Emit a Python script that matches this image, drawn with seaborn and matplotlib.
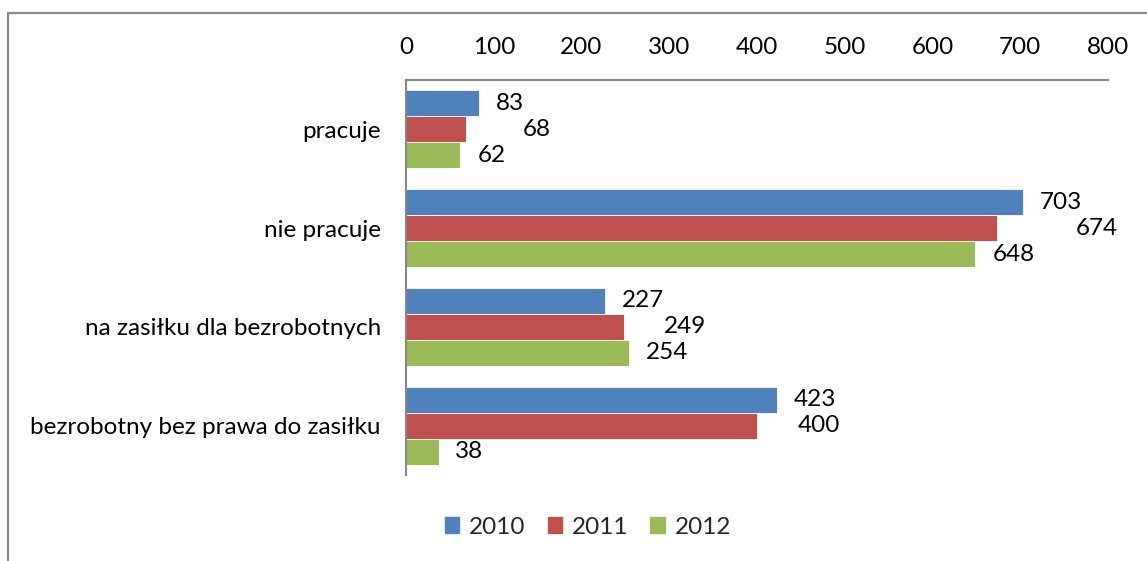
import matplotlib
matplotlib.use("Agg")
import matplotlib.pyplot as plt
import seaborn as sns
import pandas as pd
from matplotlib.lines import Line2D

categories = ["pracuje", "nie pracuje", "na zasiłku dla bezrobotnych", "bezrobotny bez prawa do zasiłku"]
years = ["2010", "2011", "2012"]
values_2010 = [83, 703, 227, 423]
values_2011 = [68, 674, 249, 400]
values_2012 = [62, 648, 254, 38]
x_ticks = [0, 100, 200, 300, 400, 500, 600, 700, 800]

colors = ["#4F81BD", "#C0504D", "#9BBB59"]
# label offsets in pixels (style: how the original chart staggers its data labels)
label_offsets = {
    "2010": [17, 17, 17, 17],
    "2011": [57, 78, 39, 41],
    "2012": [17, 18, 17, 16],
}

rows = []
for yr, vals in zip(years, [values_2010, values_2011, values_2012]):
    for c, v in zip(categories, vals):
        rows.append({"kategoria": c, "rok": yr, "wartosc": v})
df = pd.DataFrame(rows)

sns.set_theme(style="white")
plt.rcParams["font.family"] = ["Lato", "DejaVu Sans"]
FS = 17.5

fig = plt.figure(figsize=(11.47, 5.61), dpi=100)
ax = fig.add_axes([406/1147, 1 - 475/561, (1108-406)/1147, (475-80)/561])

sns.barplot(data=df, y="kategoria", x="wartosc", hue="rok", order=categories,
            hue_order=years, palette=colors, orient="h", width=0.79,
            saturation=1, ax=ax, edgecolor="white", linewidth=0.6)

ax.set_xlim(0, 800)
ax.set_xticks(x_ticks)
ax.xaxis.tick_top()
ax.tick_params(axis="x", length=0, pad=16, labelsize=FS, colors="black")
ax.tick_params(axis="y", length=0, pad=18, labelsize=FS, colors="black")
ax.set_xlabel("")
ax.set_ylabel("")
for side in ["right", "bottom"]:
    ax.spines[side].set_visible(False)
for side in ["left", "top"]:
    ax.spines[side].set_color("#868686")
    ax.spines[side].set_linewidth(1.5)

px2pt = 72 / 100
for cont, yr in zip(ax.containers, years):
    for bar, off in zip(cont, label_offsets[yr]):
        w = bar.get_width()
        yc = bar.get_y() + bar.get_height() / 2
        ax.annotate(f"{int(round(w))}", xy=(w, yc), xytext=(off * px2pt, 0),
                    textcoords="offset points", ha="left", va="center",
                    fontsize=FS, color="black", annotation_clip=False)

handles = [plt.Rectangle((0, 0), 1, 1, color=c) for c in colors]
ax.legend(handles, years, loc="center", bbox_to_anchor=(588/1147, 1 - 527/561),
          bbox_transform=fig.transFigure, ncol=3, frameon=False, fontsize=FS,
          handlelength=0.6, handleheight=0.6, handletextpad=0.4, columnspacing=0.9)

# outer chart border (top and left visible)
fig.add_artist(Line2D([8/1147, 1.0], [1 - 13/561, 1 - 13/561], transform=fig.transFigure,
                      color="#898989", linewidth=1.6))
fig.add_artist(Line2D([8/1147, 8/1147], [0, 1 - 13/561], transform=fig.transFigure,
                      color="#898989", linewidth=1.6))

fig.savefig("out.png", dpi=100, facecolor="white")
